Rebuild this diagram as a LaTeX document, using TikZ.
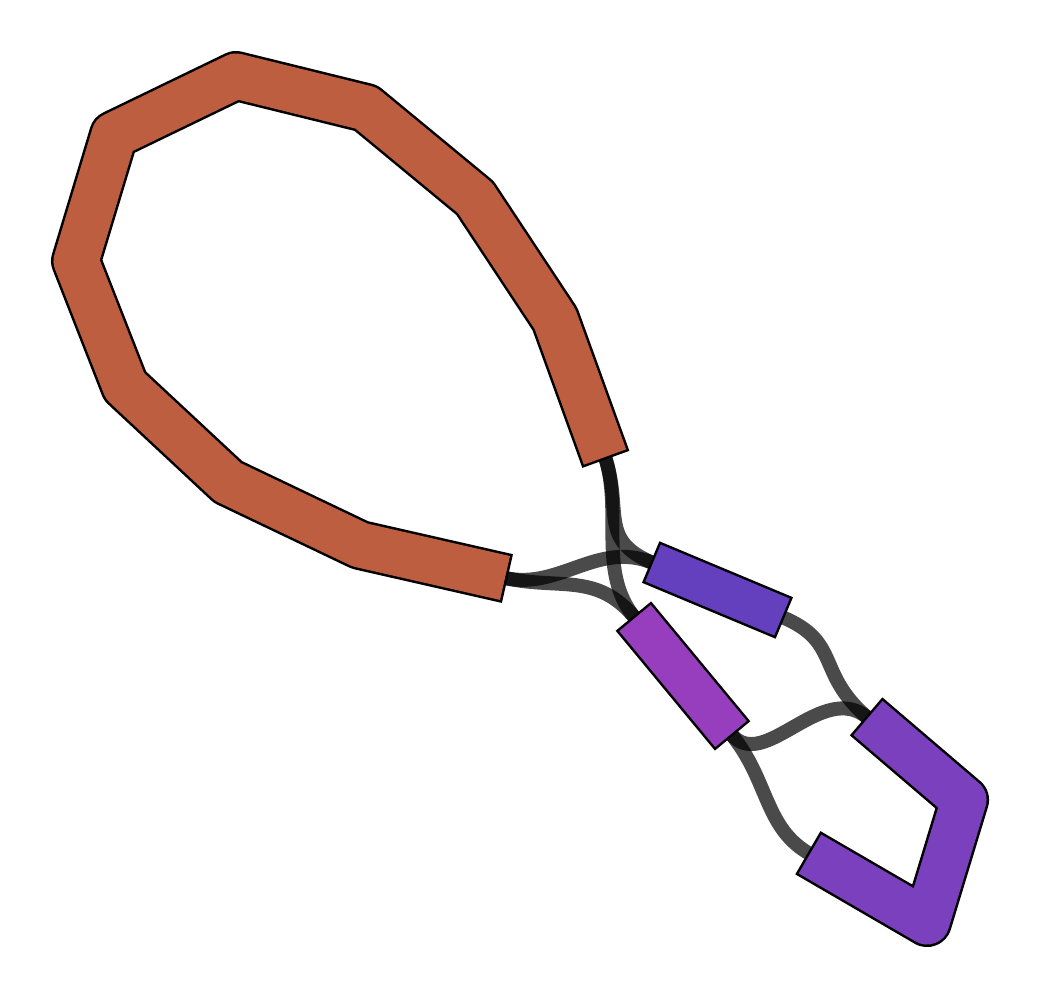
\documentclass[tikz,border=0pt]{standalone}
\usepackage{xcolor}
\usepackage{tikz}
\usetikzlibrary{calc}

\definecolor{contigOrange}{RGB}{190,94,65}
\definecolor{contigBlue}{RGB}{100,64,190}
\definecolor{contigMagenta}{RGB}{150,62,190}
\definecolor{contigPurple}{RGB}{122,64,190}

\begin{document}
\begin{tikzpicture}[
    x=1pt, y=-1pt,
    edge/.style={draw=black, line width=14pt, opacity=0.71},
    contig/.style 2 args={preaction={draw=black, line width=#2+5pt, line join=round,
        shorten <=-2.5pt, shorten >=-2.5pt},
      draw=#1, line width=#2, line join=round}
  ]
  \useasboundingbox (0,0) rectangle (1042,1000);
  % segment ends
  \coordinate (orangeIn) at (505,578);
  \coordinate (orangeOut) at (605,457);
  \coordinate (blueIn) at (653,563);
  \coordinate (blueOut) at (782,617);
  \coordinate (magIn) at (635,618);
  \coordinate (magOut) at (731,734);
  \coordinate (purpleIn) at (868,718);
  \coordinate (purpleOut) at (810,854);
  % edges
  \draw[edge] (orangeOut) .. controls +(18,55) and +(-55,-23) .. (blueIn);
  \draw[edge] (orangeOut) .. controls +(18,55) and +(-38,-46) .. (magIn);
  \draw[edge] (orangeIn) .. controls +(55,12) and +(-55,-23) .. (blueIn);
  \draw[edge] (orangeIn) .. controls +(55,12) and +(-38,-46) .. (magIn);
  \draw[edge] (blueOut) .. controls +(60,25) and +(-53,-45) .. (purpleIn);
  \draw[edge] (magOut) .. controls +(33,40) and +(-46,-39) .. (purpleIn);
  \draw[edge] (magOut) .. controls +(38,46) and +(-46,-26) .. (purpleOut);
  % segments
  \draw[contig={contigOrange}{45pt}] (orangeIn) -- (360,545) -- (228,482) -- (125,386)
    -- (76,261) -- (114,135) -- (236,76) -- (366,108) -- (475,198) -- (555,319)
    -- (orangeOut);
  \draw[contig={contigBlue}{40pt}] (blueIn) -- (blueOut);
  \draw[contig={contigMagenta}{41pt}] (magIn) -- (magOut);
  \draw[contig={contigPurple}{45pt}] (purpleIn) -- (964,800) -- (927,922) -- (purpleOut);
\end{tikzpicture}
\end{document}
